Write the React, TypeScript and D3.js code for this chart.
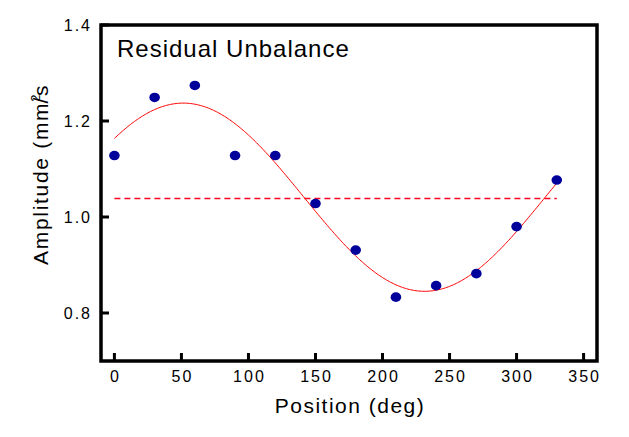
import React from "react";
import * as d3 from "d3";

const positions = [0, 30, 60, 90, 120, 150, 180, 210, 240, 270, 300, 330];
const amplitudes = [1.128, 1.249, 1.274, 1.128, 1.128, 1.028, 0.931, 0.833, 0.857, 0.882, 0.98, 1.077];
const xTicks = [0, 50, 100, 150, 200, 250, 300, 350];
const yTicks = [0.8, 1.0, 1.2, 1.4];
const title = "Residual Unbalance";
const xLabel = "Position (deg)";

const W = 629, H = 437;
const L = 101, R = 597, T = 25, B = 361;
const FONT = "'Liberation Sans', Arial, Helvetica, sans-serif";

export default function App() {
  const x = d3.scaleLinear().domain([-10, 360]).range([L, R]);
  const y = d3.scaleLinear().domain([0.7, 1.4]).range([B, T]);

  // least-squares sine fit from the data
  const n = positions.length;
  const mean = d3.mean(amplitudes) as number;
  let a = 0, b = 0;
  positions.forEach((p, i) => {
    const r = (p * Math.PI) / 180;
    a += amplitudes[i] * Math.cos(r);
    b += amplitudes[i] * Math.sin(r);
  });
  a *= 2 / n; b *= 2 / n;
  const fitX = d3.range(0, 330.01, 1);
  const fitPts: [number, number][] = fitX.map((p) => {
    const r = (p * Math.PI) / 180;
    return [p, mean + a * Math.cos(r) + b * Math.sin(r)];
  });
  const line = d3.line<[number, number]>().x((d) => x(d[0])).y((d) => y(d[1]));
  const meanY = Math.round(y(mean)) + 1.5;

  return (
    <svg width={W} height={H} style={{ position: "absolute", left: 0, top: 0, background: "#fff" }} fontFamily={FONT}>
      <rect x={0} y={0} width={W} height={H} fill="#fff" />
      {/* mean dashed line */}
      <line x1={x(0)} x2={x(330)} y1={meanY} y2={meanY} stroke="#ff0020" strokeWidth={1.5} strokeDasharray="6,4" />
      {/* fit curve */}
      <path d={line(fitPts) as string} fill="none" stroke="#ff0000" strokeWidth={1} />
      {/* points */}
      {positions.map((p, i) => (
        <ellipse key={p} cx={x(p)} cy={y(amplitudes[i])} rx={5.3} ry={4.8} fill="#00009a" />
      ))}
      {/* frame */}
      <rect x={L} y={T} width={R - L} height={B - T} fill="none" stroke="#000" strokeWidth={3.5} />
      {/* x ticks */}
      {xTicks.map((t) => (
        <g key={t}>
          <line x1={x(t)} x2={x(t)} y1={B} y2={B - 8} stroke="#000" strokeWidth={3} />
          <text x={x(t) + 1} y={382} fontSize={16} letterSpacing={2} textAnchor="middle" fill="#000">{t}</text>
        </g>
      ))}
      {/* y ticks */}
      {yTicks.map((t) => (
        <g key={t}>
          <line x1={L} x2={L + 8} y1={y(t)} y2={y(t)} stroke="#000" strokeWidth={3} />
          <text x={92} y={y(t) + 6} fontSize={16} letterSpacing={2} textAnchor="end" fill="#000">{t.toFixed(1)}</text>
        </g>
      ))}
      {/* title */}
      <text x={117} y={57} fontSize={24} letterSpacing={1} fill="#000">{title}</text>
      {/* x label */}
      <text x={(L + R) / 2 + 1} y={413} fontSize={21} letterSpacing={1.5} textAnchor="middle" fill="#000">{xLabel}</text>
      {/* y label */}
      <text transform="translate(48,265) rotate(-90)" fontSize={21} letterSpacing={1.7} fill="#000">
        Amplitude (mm
        <tspan dy={-8} fontSize={13} letterSpacing={0}>2</tspan>
        <tspan dx={-9} dy={8}>/s</tspan>
      </text>
    </svg>
  );
}
